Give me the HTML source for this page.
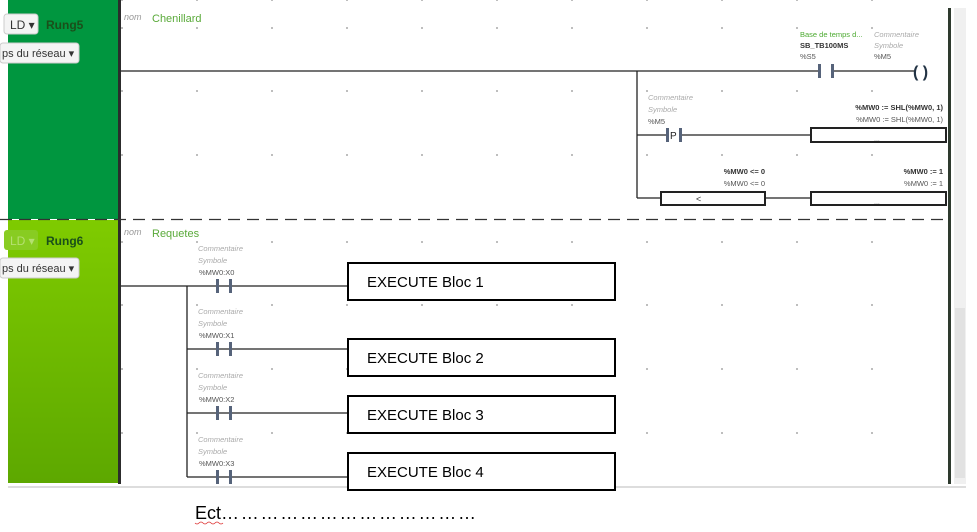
<!DOCTYPE html>
<html><head><meta charset="utf-8"><style>
body{margin:0;width:977px;height:532px;background:#fff;overflow:hidden;font-family:"Liberation Sans",sans-serif;position:relative}
</style></head><body>
<svg width="977" height="532" style="position:absolute;left:0;top:0" font-family="Liberation Sans, sans-serif">
<defs><linearGradient id="g6" x1="0" y1="0" x2="0" y2="1"><stop offset="0" stop-color="#7fcb00"/><stop offset="1" stop-color="#5da800"/></linearGradient></defs>
<rect x="8" y="0" width="111" height="219" fill="#00963f"/>
<rect x="8" y="220" width="111" height="263" fill="url(#g6)"/>
<rect x="118" y="0" width="3" height="484" fill="#2c2c2c"/>
<rect x="948" y="8" width="3" height="476" fill="#2e3a2e"/>
<rect x="954" y="8" width="12" height="476" fill="#f0f0f0"/>
<rect x="955" y="308" width="10" height="170" fill="#e2e2e2"/>
<line x1="8" y1="487" x2="966" y2="487" stroke="#ddd" stroke-width="2"/>
<line x1="0" y1="219.5" x2="950" y2="219.5" stroke="#333" stroke-width="1.2" stroke-dasharray="12,7"/>
<rect x="4" y="14" width="34" height="20" rx="3" fill="#f4f4f4" stroke="#ccc"/>
<text x="10" y="29" font-size="12" fill="#333">LD ▾</text>
<text x="46" y="29" font-size="12" font-weight="bold" fill="#1a4f1a">Rung5</text>
<rect x="0" y="43" width="79" height="20" rx="3" fill="#f4f4f4" stroke="#ccc"/>
<text x="2" y="57" font-size="11" fill="#333">ps du réseau ▾</text>
<rect x="4" y="230" width="34" height="20" rx="3" fill="#88cc22"/>
<text x="10" y="245" font-size="12" fill="#b5e070">LD ▾</text>
<text x="46" y="245" font-size="12" font-weight="bold" fill="#1a4f1a">Rung6</text>
<rect x="0" y="258" width="79" height="20" rx="3" fill="#f4f4f4" stroke="#ccc"/>
<text x="2" y="272" font-size="11" fill="#333">ps du réseau ▾</text>
<text x="124" y="20" font-size="9" font-style="italic" fill="#999">nom</text>
<text x="152" y="22" font-size="11" fill="#5aaa3a">Chenillard</text>
<text x="124" y="235" font-size="9" font-style="italic" fill="#999">nom</text>
<text x="152" y="237" font-size="11" fill="#5aaa3a">Requetes</text>
<g fill="#aaa">
<g id="dr"><circle cx="197" cy="0" r="1"/><circle cx="272" cy="0" r="1"/><circle cx="347" cy="0" r="1"/><circle cx="422" cy="0" r="1"/><circle cx="497" cy="0" r="1"/><circle cx="572" cy="0" r="1"/><circle cx="647" cy="0" r="1"/><circle cx="722" cy="0" r="1"/><circle cx="797" cy="0" r="1"/><circle cx="872" cy="0" r="1"/><circle cx="122" cy="0" r="1"/></g>
<use href="#dr" y="28"/><use href="#dr" y="91"/><use href="#dr" y="155"/>
<use href="#dr" y="242"/><use href="#dr" y="305"/><use href="#dr" y="369"/><use href="#dr" y="433"/>
</g>
<g stroke="#222" stroke-width="1.3" fill="none">
<line x1="121" y1="71" x2="818" y2="71"/><line x1="834" y1="71" x2="916" y2="71"/>
<line x1="637" y1="71" x2="637" y2="198"/>
<line x1="637" y1="135" x2="667" y2="135"/><line x1="681" y1="135" x2="811" y2="135"/>
<line x1="637" y1="198" x2="661" y2="198"/><line x1="765" y1="198" x2="811" y2="198"/>
<rect x="811" y="128" width="135" height="14" stroke-width="2"/>
<rect x="811" y="192" width="135" height="13" stroke-width="2"/>
<rect x="661" y="192" width="104" height="13" stroke-width="2"/>
<line x1="121" y1="286" x2="348" y2="286"/>
<line x1="187" y1="286" x2="187" y2="477"/>
<line x1="187" y1="349" x2="348" y2="349"/>
<line x1="187" y1="413" x2="348" y2="413"/>
<line x1="187" y1="477" x2="348" y2="477"/>
</g>
<g fill="#56637a">
<rect x="818" y="64" width="3" height="14"/><rect x="831" y="64" width="3" height="14"/>
<rect x="666" y="128" width="3" height="14"/><rect x="679" y="128" width="3" height="14"/>
<rect x="216" y="279" width="3" height="14"/><rect x="229" y="279" width="3" height="14"/>
<rect x="216" y="342" width="3" height="14"/><rect x="229" y="342" width="3" height="14"/>
<rect x="216" y="406" width="3" height="14"/><rect x="229" y="406" width="3" height="14"/>
<rect x="216" y="470" width="3" height="14"/><rect x="229" y="470" width="3" height="14"/>
</g>
<text x="913" y="77" font-size="16" font-weight="bold" fill="#234">( )</text>
<text x="670" y="139" font-size="10" fill="#222">P</text>
<text x="696" y="202" font-size="9" fill="#333">&lt;</text>
<text x="874" y="141" font-size="7" fill="#999">...</text><text x="874" y="204" font-size="7" fill="#999">...</text>
<g font-size="7.5">
<text x="800" y="37" fill="#4caa30">Base de temps d...</text>
<text x="800" y="48" font-weight="bold" fill="#333">SB_TB100MS</text>
<text x="800" y="59" fill="#555">%S5</text>
<text x="874" y="37" font-style="italic" fill="#aaa">Commentaire</text>
<text x="874" y="48" font-style="italic" fill="#aaa">Symbole</text>
<text x="874" y="59" fill="#555">%M5</text>
<text x="648" y="100" font-style="italic" fill="#aaa">Commentaire</text>
<text x="648" y="112" font-style="italic" fill="#aaa">Symbole</text>
<text x="648" y="124" fill="#555">%M5</text>
<text x="943" y="110" text-anchor="end" font-weight="bold" fill="#333">%MW0 := SHL(%MW0, 1)</text>
<text x="943" y="122" text-anchor="end" fill="#555">%MW0 := SHL(%MW0, 1)</text>
<text x="765" y="174" text-anchor="end" font-weight="bold" fill="#333">%MW0 &lt;= 0</text>
<text x="765" y="186" text-anchor="end" fill="#555">%MW0 &lt;= 0</text>
<text x="943" y="174" text-anchor="end" font-weight="bold" fill="#333">%MW0 := 1</text>
<text x="943" y="186" text-anchor="end" fill="#555">%MW0 := 1</text>
<g id="c"><text x="198" y="251" font-style="italic" fill="#aaa">Commentaire</text><text x="198" y="263" font-style="italic" fill="#aaa">Symbole</text></g>
<text x="199" y="275" fill="#555">%MW0:X0</text>
<use href="#c" y="63"/><text x="199" y="338" fill="#555">%MW0:X1</text>
<use href="#c" y="127"/><text x="199" y="402" fill="#555">%MW0:X2</text>
<use href="#c" y="191"/><text x="199" y="466" fill="#555">%MW0:X3</text>
</g>
<g stroke="#000" stroke-width="2" fill="#fff">
<rect x="348" y="263" width="267" height="37"/>
<rect x="348" y="339" width="267" height="37"/>
<rect x="348" y="396" width="267" height="37"/>
<rect x="348" y="453" width="267" height="37"/>
</g>
<g font-size="15" fill="#000">
<text x="367" y="287">EXECUTE Bloc 1</text>
<text x="367" y="363">EXECUTE Bloc 2</text>
<text x="367" y="420">EXECUTE Bloc 3</text>
<text x="367" y="477">EXECUTE Bloc 4</text>
</g>
<text x="195" y="519" font-size="18" fill="#000">Ect<tspan textLength="255" lengthAdjust="spacing">…………………………………</tspan></text>
<path d="M195 523 q2 2 4 0 q2 -2 4 0 q2 2 4 0 q2 -2 4 0 q2 2 4 0 q2 -2 4 0 q2 2 4 0" stroke="#d33" fill="none" stroke-width="0.8"/>
</svg>
</body></html>
